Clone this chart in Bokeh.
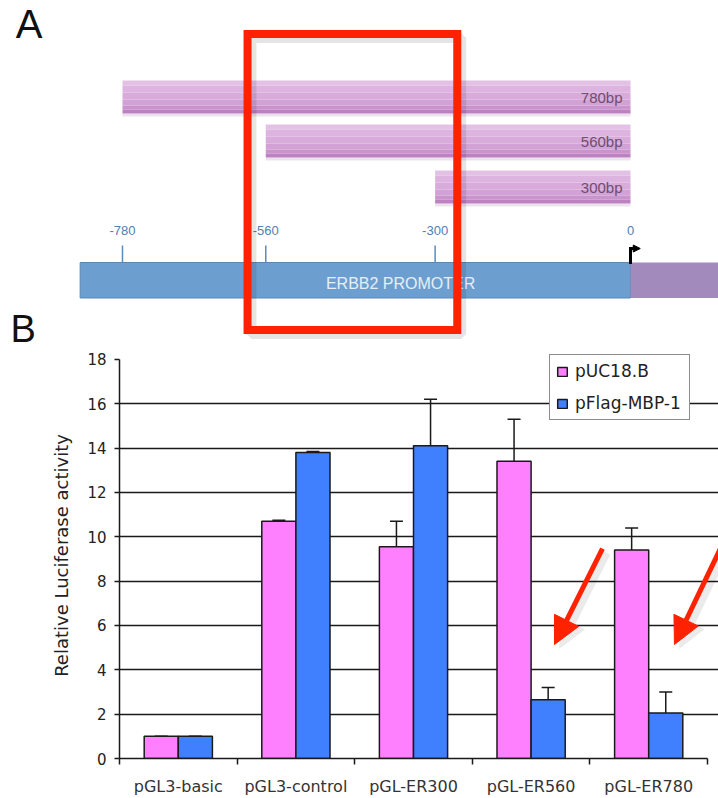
from bokeh.plotting import figure
from bokeh.models import (Range1d, FixedTicker, Legend, LegendItem, Whisker, TeeHead,
                          Arrow, NormalHead, ColumnDataSource)
from bokeh.layouts import column
from bokeh.embed import file_html
from bokeh.resources import INLINE
from bokeh.core.properties import value

# ---------------- Panel A data (promoter schematic) ----------------
fragment_labels = ["780bp", "560bp", "300bp"]
fragment_starts = [-780, -560, -300]
fragment_end = 0
position_ticks = [-780, -560, -300, 0]
position_labels = ["-780", "-560", "-300", "0"]
promoter_start = -845
promoter_label = "ERBB2 PROMOTER"
highlight_box = [-588, -266]          # bp span of the red highlight box

# ---------------- Panel B data (luciferase assay) ----------------
categories = ["pGL3-basic", "pGL3-control", "pGL-ER300", "pGL-ER560", "pGL-ER780"]
series_names = ["pUC18.B", "pFlag-MBP-1"]
puc18_values = [1.0, 10.7, 9.55, 13.4, 9.4]
puc18_errors = [0.0, 0.05, 1.15, 1.9, 1.0]
flag_values = [1.0, 13.8, 14.1, 2.65, 2.05]
flag_errors = [0.0, 0.05, 2.1, 0.55, 0.95]
y_ticks = [0, 2, 4, 6, 8, 10, 12, 14, 16, 18]
grid_ticks = [2, 4, 6, 8, 10, 12, 14, 16]

RED = "#ff2200"
FONT_A = "Liberation Sans"
FONT_B = "DejaVu Sans"

# =================== Panel A ===================
a = figure(width=718, height=350, x_range=Range1d(-967.3, 135.1), y_range=Range1d(0, 350),
           output_backend="svg", toolbar_location=None, title=None,
           x_axis_location=None, y_axis_location=None, min_border=0)
a.frame_align = False
a.grid.visible = False
a.outline_line_color = None

row_y = [253.5, 209.5, 163.5]
half = 16.5
ends = [fragment_end] * len(fragment_starts)
tops = [y + half for y in row_y]
bots = [y - half for y in row_y]
# soft shadow under each fragment
a.quad(left=fragment_starts, right=ends, top=bots, bottom=[b - 3 for b in bots],
       fill_color="#ebe3eb", line_color=None)
# vertical shading bands (top light -> bottom darker)
bands = [(0, 5, "#e3c1e5"), (5, 12, "#ddb4df"), (12, 19, "#d8abda"),
         (19, 25, "#d2a1d5"), (25, 29, "#c993cc"), (29, 33, "#bd81c1")]
for t0, t1, col in bands:
    a.quad(left=fragment_starts, right=ends, top=[t - t0 for t in tops],
           bottom=[t - t1 for t in tops], fill_color=col, line_color=None)
a.text(x=ends, y=row_y, text=fragment_labels, x_offset=-8, text_align="right",
       text_baseline="middle", text_font=value(FONT_A), text_font_size="15px",
       text_color="#6d4d72")

# promoter bar
a.quad(left=[promoter_start], right=[0], top=[88], bottom=[52.5],
       fill_color="#6c9fd0", line_color="#5b87b3", line_width=1)
a.quad(left=[0], right=[140], top=[88], bottom=[52.5],
       fill_color="#a28abd", line_color=None)
a.text(x=[-353], y=[67.5], text=[promoter_label], text_align="center",
       text_baseline="middle", text_font=value(FONT_A), text_font_size="16px",
       text_color="#e6eef7")

# position ticks and labels
a.segment(x0=position_ticks[:3], y0=88, x1=position_ticks[:3], y1=105,
          line_color="#5d8bbd", line_width=1.5)
a.text(x=position_ticks, y=120, text=position_labels, text_align="center",
       text_baseline="middle", text_font=value(FONT_A), text_font_size="13px",
       text_color="#4f80b5")

# transcription start arrow
a.line(x=[0, 0], y=[88, 102], line_color="black", line_width=3, line_cap="square")
a.add_layout(Arrow(x_start=0, y_start=102, x_end=15, y_end=102, line_width=3,
                   line_color="black",
                   end=NormalHead(size=7, fill_color="black", line_color="black")))

# red highlight box (with soft shadow)
a.quad(left=[highlight_box[0] + 6], right=[highlight_box[1] + 6], top=[312.5], bottom=[16.5],
       fill_color=None, line_color="black", line_alpha=0.10, line_width=10)
a.quad(left=[highlight_box[0]], right=[highlight_box[1]], top=[316.5], bottom=[20.5],
       fill_color=None, line_color=RED, line_width=8, line_join="miter")

# panel letters
a.text(x=[-944], y=[326.5], text=["A"], text_font=value(FONT_A), text_font_size="40px",
       text_baseline="middle", text_color="#111111")
a.text(x=[-952], y=[1], text=["B"], text_font=value(FONT_A), text_font_size="38px",
       text_baseline="bottom", text_color="#111111")

# =================== Panel B ===================
b = figure(width=718, height=448, x_range=Range1d(-0.5, 4.5935), y_range=Range1d(0, 18.31),
           output_backend="svg", toolbar_location=None, title=None,
           min_border_left=119, min_border_right=0, min_border_top=2, min_border_bottom=40)
b.frame_align = False
b.outline_line_color = None

idx = list(range(len(categories)))
bw = 0.29
src_p = ColumnDataSource(dict(x=[i - bw / 2 for i in idx], top=puc18_values,
                              upper=[v + e for v, e in zip(puc18_values, puc18_errors)]))
src_f = ColumnDataSource(dict(x=[i + bw / 2 for i in idx], top=flag_values,
                              upper=[v + e for v, e in zip(flag_values, flag_errors)]))

r1 = b.vbar(x="x", top="top", width=bw, source=src_p, fill_color="#ff80ff",
            line_color="#1a1a1a", line_width=1.5)
r2 = b.vbar(x="x", top="top", width=bw, source=src_f, fill_color="#4080ff",
            line_color="#1a1a1a", line_width=1.5)

for src in (src_p, src_f):
    b.add_layout(Whisker(source=src, base="x", lower="top", upper="upper", dimension="height",
                         line_color="#1a1a1a", line_width=1.5, lower_head=None,
                         upper_head=TeeHead(size=13, line_color="#1a1a1a", line_width=1.5)))

# axes
yax = b.yaxis[0]
yax.ticker = FixedTicker(ticks=y_ticks, minor_ticks=[])
yax.bounds = (0, 18)
yax.axis_line_color = "#1a1a1a"
yax.axis_line_width = 1.5
yax.major_tick_line_color = "#1a1a1a"
yax.major_tick_line_width = 1.5
yax.major_tick_out = 5
yax.major_tick_in = 0
yax.major_label_standoff = 8
yax.major_label_text_font = FONT_B
yax.major_label_text_font_size = "15px"
yax.major_label_text_color = "#222222"
yax.axis_label = "Relative Luciferase activity"
yax.axis_label_text_font = FONT_B
yax.axis_label_text_font_size = "18px"
yax.axis_label_text_font_style = "normal"
yax.axis_label_text_color = "#222222"
yax.axis_label_standoff = 12

xax = b.xaxis[0]
xax.ticker = FixedTicker(ticks=idx, minor_ticks=[i - 0.5 for i in idx] + [idx[-1] + 0.5])
xax.bounds = (-0.5, 4.5)
xax.major_label_overrides = {i: c for i, c in zip(idx, categories)}
xax.axis_line_color = "#1a1a1a"
xax.axis_line_width = 1.5
xax.major_tick_line_color = None
xax.major_tick_out = 0
xax.major_tick_in = 0
xax.minor_tick_line_color = "#1a1a1a"
xax.minor_tick_line_width = 1.5
xax.minor_tick_out = 6
xax.minor_tick_in = 0
xax.major_label_standoff = 12
xax.major_label_text_font = FONT_B
xax.major_label_text_font_size = "16px"
xax.major_label_text_color = "#333333"

b.xgrid.visible = False
b.ygrid.ticker = FixedTicker(ticks=grid_ticks)
b.ygrid.bounds = (-0.5, 4.5)
b.ygrid.grid_line_color = "#1a1a1a"
b.ygrid.grid_line_width = 1.5

legend = Legend(items=[LegendItem(label=series_names[0], renderers=[r1]),
                       LegendItem(label=series_names[1], renderers=[r2])],
                location=(430, 338), margin=0, padding=6, spacing=12,
                glyph_width=12, glyph_height=11, label_standoff=7,
                label_width=108, label_height=20,
                label_text_font=FONT_B, label_text_font_size="17px",
                label_text_color="#222222",
                border_line_color="#1a1a1a", border_line_width=1.5,
                background_fill_color="white", background_fill_alpha=1.0)
b.add_layout(legend)

# red arrows pointing to reduced pFlag-MBP-1 activity
for xs, ys, xe, ye in [(3.607, 9.47, 3.199, 5.14), (4.61, 9.47, 4.219, 5.14)]:
    b.add_layout(Arrow(x_start=xs + 0.04, y_start=ys - 0.2, x_end=xe + 0.04, y_end=ye - 0.2,
                       line_color="black", line_alpha=0.08, line_width=7,
                       end=NormalHead(size=29, fill_color="black", fill_alpha=0.08,
                                      line_color=None)))
    b.add_layout(Arrow(x_start=xs, y_start=ys, x_end=xe, y_end=ye,
                       line_color=RED, line_width=5,
                       end=NormalHead(size=27, fill_color=RED, line_color=RED, line_width=1)))

layout = column(a, b)
open("out.html", "w").write(file_html(layout, INLINE))
